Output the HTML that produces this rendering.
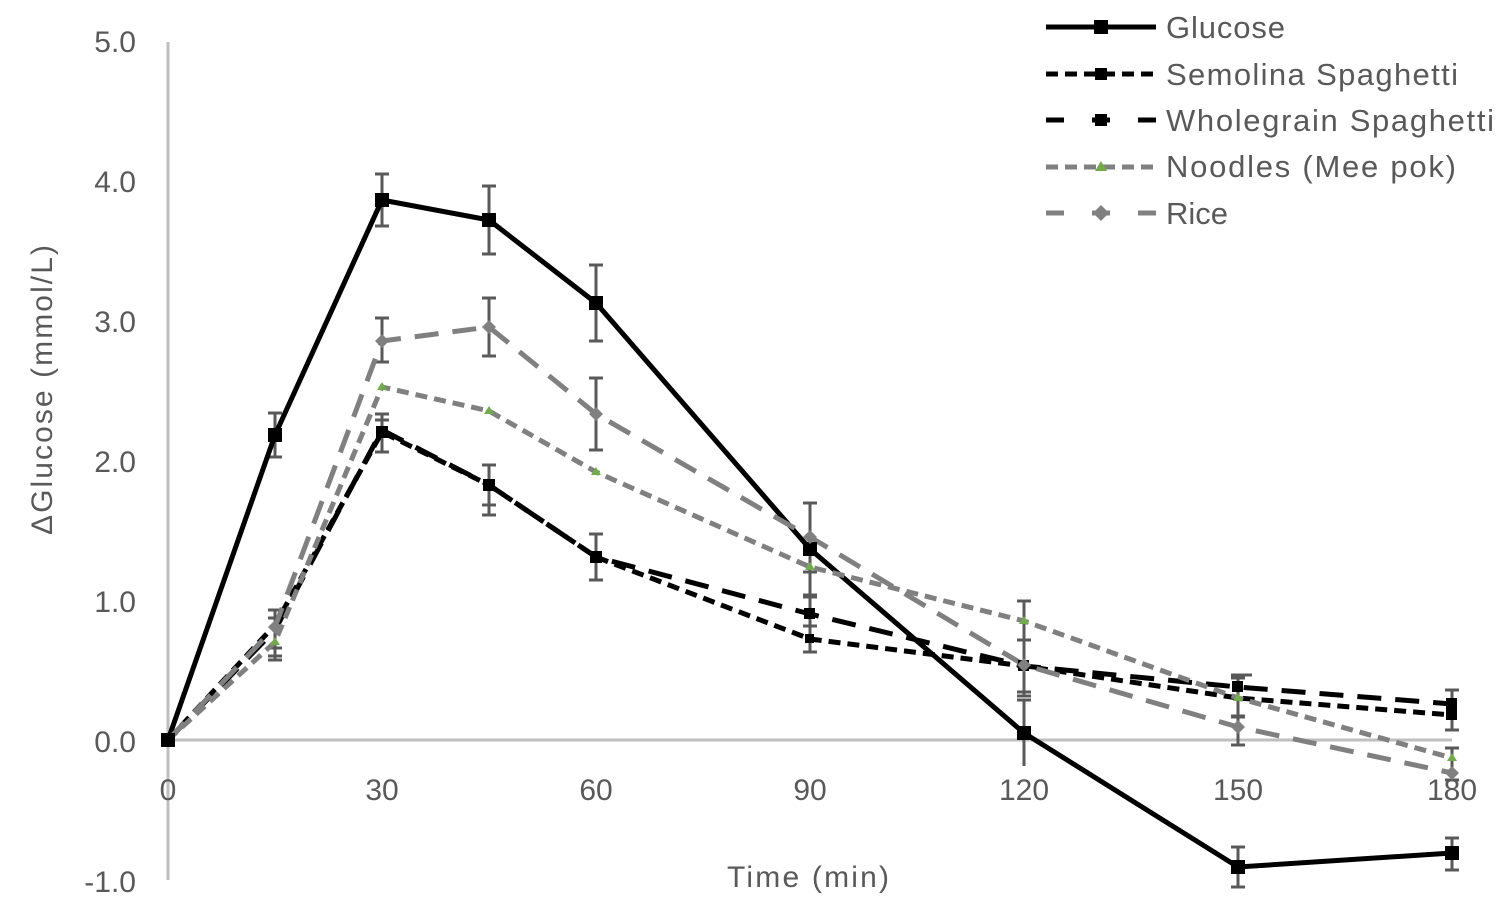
<!DOCTYPE html><html><head><style>body{margin:0;background:#fff}svg text{font-family:"Liberation Sans",sans-serif;fill:#595959}</style></head><body>
<svg width="1504" height="916" xmlns="http://www.w3.org/2000/svg">
<line x1="168" y1="42" x2="168" y2="880" stroke="#bfbfbf" stroke-width="3"/>
<line x1="168" y1="740" x2="1452" y2="740" stroke="#bfbfbf" stroke-width="3"/>
<g font-size="30" text-anchor="end">
<text x="136" y="52">5.0</text><text x="136" y="192">4.0</text><text x="136" y="332">3.0</text><text x="136" y="472">2.0</text><text x="136" y="612">1.0</text><text x="136" y="752">0.0</text><text x="136" y="892">-1.0</text></g>
<g font-size="30" text-anchor="middle">
<text x="168" y="800">0</text><text x="382" y="800">30</text><text x="596" y="800">60</text><text x="810" y="800">90</text><text x="1024" y="800">120</text><text x="1238" y="800">150</text><text x="1452" y="800">180</text>
<text x="808" y="887" textLength="162">Time (min)</text></g>
<text font-size="30" text-anchor="middle" textLength="290" transform="translate(52,390) rotate(-90)">ΔGlucose (mmol/L)</text>
<g stroke="#595959" stroke-width="3" fill="none">
<path d="M275 413V457M268 413H282M268 457H282M382 174V226M375 174H389M375 226H389M489 186V254M482 186H496M482 254H496M596 265V341M589 265H603M589 341H603M810 503V595M803 503H817M803 595H817M1024 700V766M1017 700H1031M1238 847V887M1231 847H1245M1231 887H1245M1452 838V870M1445 838H1459M1445 870H1459"/>
<path d="M275 610V656M268 610H282M268 618H282M268 648H282M268 656H282M382 414V452M375 414H389M375 452H389M375 420H389M489 465V515M482 465H496M482 505H496M482 515H496M596 534V580M589 534H603M589 580H603M810 597V652M803 597H817M803 652H817M803 626H817M1024 640V692M1017 640H1031M1017 692H1031M1238 675H1252M1231 675H1245M1231 717H1245M1238 675V717M1452 690V730M1445 690H1459M1445 730H1459"/>
<path d="M275 625V660M268 660H282M382 318V362M375 318H389M375 362H389M489 298V356M482 298H496M482 356H496M596 378V450M589 378H603M589 450H603M810 503V572M803 503H817M803 572H817M1024 601V696M1017 601H1031M1017 696H1031M1238 678V716M1231 678H1245M1231 716H1245M1238 712V745M1231 745H1245M1452 748V780M1445 748H1459M1445 780H1459"/>
</g>
<polyline points="168,740 275,435 382,200 489,220 596,303 810,549 1024,733 1238,867 1452,853" fill="none" stroke="#000" stroke-width="5"/>
<polyline points="168,740 275,625 382,432 489,485 596,557 810,639 1024,666 1238,698 1452,715" fill="none" stroke="#000" stroke-width="5" stroke-dasharray="12,7"/>
<polyline points="168,740 275,630 382,430 489,485 596,557 810,614 1024,666 1238,687 1452,704" fill="none" stroke="#000" stroke-width="5" stroke-dasharray="24,14"/>
<polyline points="168,740 275,642 382,387 489,411 596,472 810,567 1024,621 1238,698 1452,758" fill="none" stroke="#808080" stroke-width="5" stroke-dasharray="12,7"/>
<polyline points="168,740 275,627 382,341 489,327 596,414 810,537 1024,665 1238,727 1452,773" fill="none" stroke="#808080" stroke-width="5" stroke-dasharray="24,14"/>
<g fill="#000">
<rect x="268" y="428" width="14" height="14"/><rect x="375" y="193" width="14" height="14"/><rect x="482" y="213" width="14" height="14"/><rect x="589" y="296" width="14" height="14"/><rect x="803" y="542" width="14" height="14"/><rect x="1017" y="726" width="14" height="14"/><rect x="1231" y="860" width="14" height="14"/><rect x="1445" y="846" width="14" height="14"/><rect x="161" y="733" width="14" height="14"/>
<rect x="376" y="426" width="12" height="12"/><rect x="483" y="479" width="12" height="12"/><rect x="590" y="551" width="12" height="12"/><rect x="804" y="608" width="11" height="11"/><rect x="805" y="634" width="9" height="9"/><rect x="1018" y="660" width="11" height="11"/><rect x="1232" y="681" width="11" height="11"/><rect x="1446" y="698" width="11" height="11"/><rect x="1446" y="709" width="11" height="11"/>
</g>
<g fill="#808080"><path d="M275 620l7 7-7 7-7-7zM382 334l7 7-7 7-7-7zM489 320l7 7-7 7-7-7zM596 407l7 7-7 7-7-7zM810 530l7 7-7 7-7-7zM1024 658l7 7-7 7-7-7zM1238 720l7 7-7 7-7-7zM1452 766l7 7-7 7-7-7z"/></g>
<g fill="#70ad47"><path d="M275 637l5 8h-10zM382 382l5 8h-10zM489 406l5 8h-10zM596 467l5 8h-10zM810 562l5 8h-10zM1024 616l5 8h-10zM1238 693l5 8h-10zM1452 753l5 8h-10z"/></g>
<line x1="1046" y1="27" x2="1156" y2="27" stroke="#000" stroke-width="5"/><rect x="1094" y="20" width="14" height="14"/>
<line x1="1046" y1="74" x2="1156" y2="74" stroke="#000" stroke-width="5" stroke-dasharray="12,7"/><rect x="1095" y="68" width="12" height="12"/>
<line x1="1046" y1="120" x2="1156" y2="120" stroke="#000" stroke-width="5" stroke-dasharray="18,28"/><rect x="1095" y="114" width="12" height="12"/>
<line x1="1046" y1="167" x2="1156" y2="167" stroke="#808080" stroke-width="5" stroke-dasharray="12,7"/><path d="M1101 161l6 10h-12z" fill="#70ad47"/>
<line x1="1046" y1="213" x2="1156" y2="213" stroke="#808080" stroke-width="5" stroke-dasharray="18,28"/><path d="M1101 205l8 8-8 8-8-8z" fill="#808080"/>
<g font-size="31"><text x="1166" y="38" textLength="119">Glucose</text><text x="1166" y="85" textLength="292">Semolina Spaghetti</text><text x="1166" y="131" textLength="328">Wholegrain Spaghetti</text><text x="1166" y="177" textLength="290">Noodles (Mee pok)</text><text x="1166" y="224" textLength="62">Rice</text></g>
</svg></body></html>
